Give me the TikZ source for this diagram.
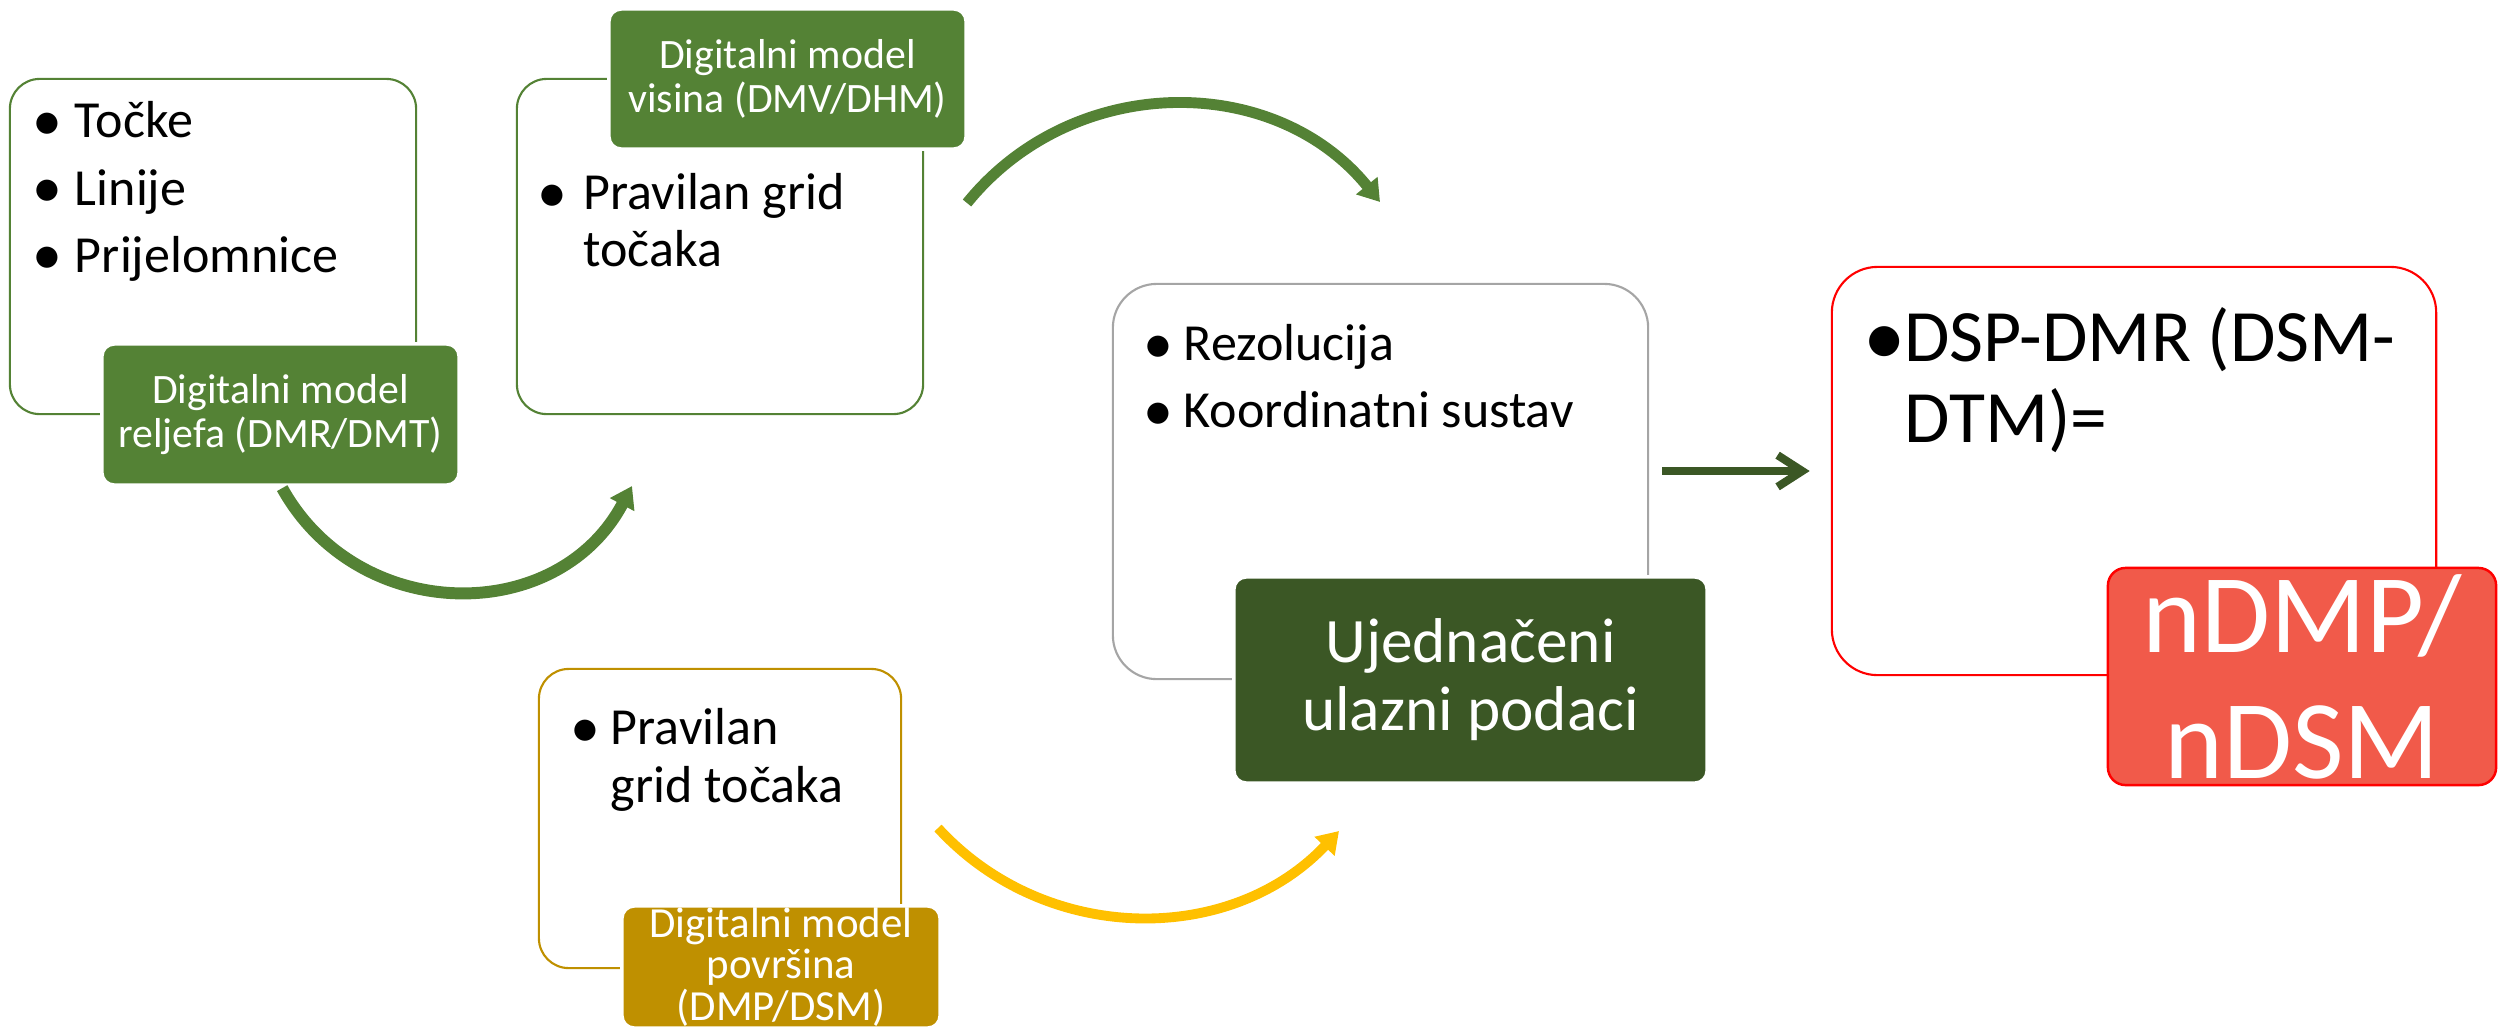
\documentclass[tikz,border=0pt]{standalone}
\usepackage{fontspec}
\setmainfont{Carlito}
\usetikzlibrary{arrows.meta}

\definecolor{leafgreen}{HTML}{548235}
\definecolor{darkleaf}{HTML}{3B5725}
\definecolor{ochre}{HTML}{BF9000}
\definecolor{amber}{HTML}{FFC000}
\definecolor{frame}{HTML}{A5A5A5}
\definecolor{salmon}{HTML}{F15A4A}

\newcommand{\bdot}{\makebox[0.5em][c]{\raisebox{-0.05em}{\scalebox{1.15}{\textbullet}}}}

\tikzset{
  panel/.style={rectangle, draw, fill=white, line width=0.6pt, inner sep=0pt, outer sep=0pt},
  tag/.style={rectangle, rounded corners=3.5pt, draw=white, line width=1pt, text=white, align=center, inner sep=0pt, outer sep=0pt},
  items/.style={anchor=base west, inner sep=0pt, outer sep=0pt},
  loopy/.style={-{Triangle[length=6pt,width=7.5pt]}},
}

\begin{document}
\begin{tikzpicture}[x=0.01cm, y=0.01cm]
    \useasboundingbox (0,0) rectangle (2498,-1030);
    \clip (0,0) rectangle (2498,-1030);

    % Panels
    \node [panel, draw=leafgreen, rounded corners=8.5pt, minimum width=4.06cm, minimum height=3.35cm] (b1) at (213,-246.5) {};
    \node [panel, draw=leafgreen, rounded corners=8.5pt, minimum width=4.06cm, minimum height=3.35cm] (b2) at (720,-246.5) {};
    \node [panel, draw=frame, rounded corners=12.5pt, minimum width=5.35cm, minimum height=3.95cm] (b3) at (1380.5,-481.5) {};
    \node [panel, draw=red, rounded corners=13pt, minimum width=6.04cm, minimum height=4.08cm] (b4) at (2134,-471) {};
    \node [panel, draw=ochre, rounded corners=8.5pt, minimum width=3.62cm, minimum height=2.99cm] (b5) at (720,-818.5) {};

    % Tags
    \node [tag, fill=leafgreen, minimum width=3.57cm, minimum height=1.41cm, font=\fontsize{11.9}{12.5}\selectfont] (l1) at (280.5,-414.5) {Digitalni model\\reljefa (DMR/DMT)};
    \node [tag, fill=leafgreen, minimum width=3.57cm, minimum height=1.40cm, font=\fontsize{11.9}{12.5}\selectfont] (l2) at (787.5,-79) {Digitalni model\\visina (DMV/DHM)};
    \node [tag, fill=darkleaf, minimum width=4.73cm, minimum height=2.06cm, font=\fontsize{18}{19.3}\selectfont] (l3) at (1470.5,-680) {Ujedna\v{c}eni\\ulazni podaci};
    \node [tag, fill=salmon, draw=red, line width=0.7pt, rounded corners=5pt, minimum width=3.88cm, minimum height=2.17cm, font=\fontsize{31.9}{35.8}\selectfont] (l4) at (2302,-676.5) {nDMP/\\nDSM};
    \node [tag, fill=ochre, minimum width=3.18cm, minimum height=1.22cm, font=\fontsize{12.2}{11.9}\selectfont] (l5) at (781,-967) {Digitalni model\\povr\v{s}ina\\(DMP/DSM)};

    % Bullet texts
    \node [items, font=\fontsize{14.8}{19.1}\selectfont] (t1) at ([shift={(25,-59)}]b1.north west)
        {\begin{tabular}[t]{@{}l@{\hspace{4pt}}l@{}}\bdot & To\v{c}ke\\ \bdot & Linije\\ \bdot & Prijelomnice\end{tabular}};
    \node [items, font=\fontsize{14.8}{16.2}\selectfont] (t2) at ([shift={(23,-131)}]b2.north west)
        {\begin{tabular}[t]{@{}l@{\hspace{5pt}}l@{}}\bdot & Pravilan grid\\ & to\v{c}aka\end{tabular}};
    \node [items, font=\fontsize{14.8}{19}\selectfont] (t3) at ([shift={(33,-77)}]b3.north west)
        {\begin{tabular}[t]{@{}l@{\hspace{3.4pt}}l@{}}\bdot & Rezolucija\\ \bdot & Koordinatni sustav\end{tabular}};
    \node [items, font=\fontsize{21}{22.8}\selectfont] (t4) at ([shift={(34,-95)}]b4.north west)
        {\begin{tabular}[t]{@{}l@{\hspace{0.5pt}}l@{}}\bdot & DSP-DMR (DSM-\\ & DTM)=\end{tabular}};
    \node [items, font=\fontsize{14.8}{16.5}\selectfont] (t5) at ([shift={(33,-76)}]b5.north west)
        {\begin{tabular}[t]{@{}l@{\hspace{3.7pt}}l@{}}\bdot & Pravilan\\ & grid to\v{c}aka\end{tabular}};

    % Free arrow ends
    \coordinate (a1e) at (632,-486);
    \coordinate (a2s) at (967,-203);
    \coordinate (a2e) at (1380,-202);
    \coordinate (a3s) at (938,-828);
    \coordinate (a3e) at (1339,-831);

    % Arrows
    \draw [loopy, leafgreen, line width=3.4pt, shorten <=1pt] (l1.south) to [out=-61, in=-118, looseness=1.16] (a1e);
    \draw [loopy, leafgreen, line width=3.1pt] (a2s) to [out=51, in=129, looseness=1.04] (a2e);
    \draw [loopy, amber, line width=2.8pt] (a3s) to [out=-47.5, in=-133.4, looseness=1.01] (a3e);
    \draw [-{Straight Barb[length=7pt,width=9pt]}, darkleaf, line width=2.3pt, shorten <=4pt, shorten >=6.3pt] (b3.east |- b4.west) -- (b4.west);

\end{tikzpicture}
\end{document}
